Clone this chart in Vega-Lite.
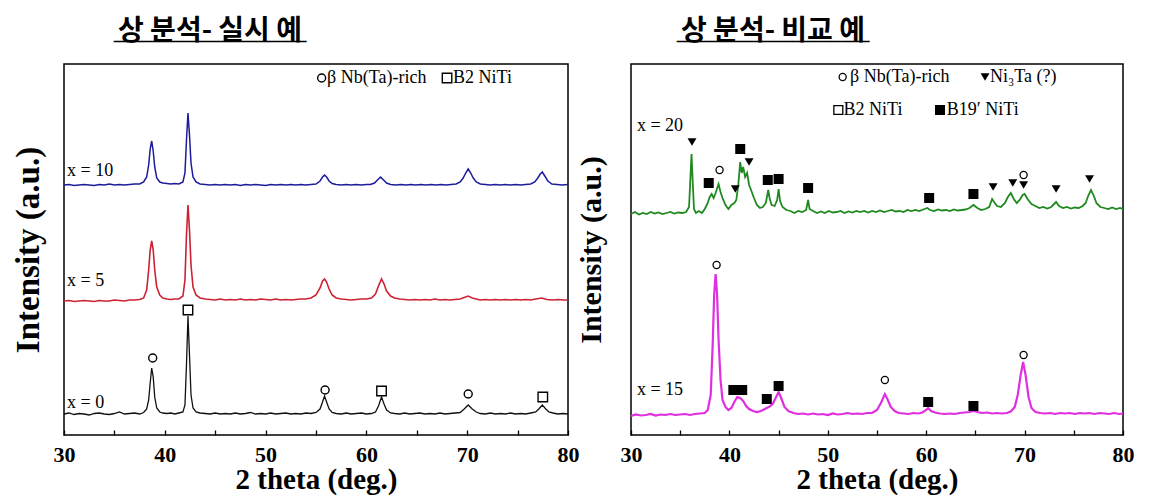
{
"$schema": "https://vega.github.io/schema/vega-lite/v6.json",
"background": "white",
"padding": {"left": 11, "top": 17, "right": 5, "bottom": 2},
"spacing": -5,
"config": {
  "view": {"stroke": "black", "strokeWidth": 1.5},
  "font": "Liberation Serif",
  "axis": {"grid": false, "domain": false, "labelFont": "Liberation Serif", "titleFont": "Liberation Serif", "labelColor": "black", "titleColor": "black", "labelFontWeight": "bold", "titleFontWeight": "bold"}
},
"datasets": {
"x0": [{"t":30,"i":21},{"t":30.5,"i":22},{"t":31,"i":20.5},{"t":31.5,"i":21.5},{"t":32,"i":21},{"t":32.5,"i":20},{"t":33,"i":21.5},{"t":33.5,"i":22},{"t":34,"i":21},{"t":34.5,"i":20.5},{"t":35,"i":21.5},{"t":35.5,"i":23},{"t":36,"i":21},{"t":36.5,"i":21.5},{"t":37,"i":22},{"t":37.5,"i":21},{"t":37.9,"i":22.5},{"t":38.2,"i":26},{"t":38.4,"i":35},{"t":38.55,"i":52},{"t":38.7,"i":67},{"t":38.85,"i":58},{"t":39.0,"i":38},{"t":39.2,"i":27},{"t":39.5,"i":23},{"t":39.8,"i":22},{"t":40.2,"i":21.5},{"t":40.6,"i":22},{"t":41,"i":21},{"t":41.4,"i":22},{"t":41.8,"i":23},{"t":42.0,"i":30},{"t":42.15,"i":70},{"t":42.3,"i":119},{"t":42.45,"i":80},{"t":42.6,"i":40},{"t":42.8,"i":27},{"t":43.1,"i":23},{"t":43.5,"i":22},{"t":44,"i":21.5},{"t":44.5,"i":21},{"t":45,"i":22},{"t":45.5,"i":21},{"t":46,"i":21.5},{"t":46.5,"i":21},{"t":47,"i":22},{"t":47.5,"i":21},{"t":48,"i":21.5},{"t":48.5,"i":22.5},{"t":49,"i":21},{"t":49.5,"i":21.5},{"t":50,"i":21},{"t":50.5,"i":22},{"t":51,"i":21},{"t":51.5,"i":21.5},{"t":52,"i":22},{"t":52.5,"i":21},{"t":53,"i":21.5},{"t":53.5,"i":21},{"t":54,"i":22},{"t":54.5,"i":21.5},{"t":55,"i":22.5},{"t":55.4,"i":26},{"t":55.65,"i":33},{"t":55.85,"i":39},{"t":56.05,"i":33},{"t":56.3,"i":26},{"t":56.6,"i":22.5},{"t":57,"i":21.5},{"t":57.5,"i":21},{"t":58,"i":22},{"t":58.5,"i":21},{"t":59,"i":21.5},{"t":59.5,"i":22},{"t":60,"i":21},{"t":60.5,"i":21.5},{"t":60.9,"i":23},{"t":61.2,"i":29},{"t":61.5,"i":38},{"t":61.75,"i":31},{"t":62.0,"i":25},{"t":62.4,"i":22},{"t":62.8,"i":21.5},{"t":63.3,"i":21},{"t":63.8,"i":22},{"t":64.3,"i":21},{"t":64.8,"i":21.5},{"t":65.3,"i":22},{"t":65.8,"i":21},{"t":66.3,"i":21.5},{"t":66.8,"i":21},{"t":67.3,"i":22},{"t":67.8,"i":21},{"t":68.3,"i":21.5},{"t":68.8,"i":22},{"t":69.3,"i":22.5},{"t":69.7,"i":26},{"t":70.1,"i":30},{"t":70.5,"i":26},{"t":70.9,"i":23},{"t":71.3,"i":21.5},{"t":71.8,"i":21},{"t":72.3,"i":22},{"t":72.8,"i":21},{"t":73.3,"i":21.5},{"t":73.8,"i":21},{"t":74.3,"i":22},{"t":74.8,"i":21},{"t":75.3,"i":21.5},{"t":75.8,"i":21},{"t":76.3,"i":22},{"t":76.8,"i":23},{"t":77.1,"i":26},{"t":77.45,"i":30},{"t":77.8,"i":26},{"t":78.1,"i":23},{"t":78.5,"i":22},{"t":79,"i":21},{"t":79.5,"i":21.5},{"t":80,"i":21}],
"x5": [{"t":30,"i":134},{"t":30.5,"i":134.5},{"t":31,"i":133.5},{"t":31.5,"i":134},{"t":32,"i":134.5},{"t":32.5,"i":134},{"t":33,"i":133.5},{"t":33.5,"i":134.5},{"t":34,"i":134},{"t":34.5,"i":134},{"t":35,"i":135},{"t":35.5,"i":134.5},{"t":36,"i":134},{"t":36.5,"i":135},{"t":37,"i":135},{"t":37.5,"i":135.5},{"t":37.9,"i":137},{"t":38.2,"i":145},{"t":38.4,"i":165},{"t":38.55,"i":185},{"t":38.7,"i":194},{"t":38.85,"i":185},{"t":39.0,"i":165},{"t":39.2,"i":148},{"t":39.5,"i":140},{"t":39.8,"i":137},{"t":40.2,"i":136},{"t":40.6,"i":135.5},{"t":41,"i":136},{"t":41.4,"i":136},{"t":41.8,"i":139},{"t":42.0,"i":155},{"t":42.15,"i":200},{"t":42.3,"i":230},{"t":42.45,"i":205},{"t":42.6,"i":170},{"t":42.8,"i":148},{"t":43.1,"i":140},{"t":43.5,"i":137},{"t":44,"i":136},{"t":44.5,"i":135.5},{"t":45,"i":135},{"t":45.5,"i":136},{"t":46,"i":135},{"t":46.5,"i":135.5},{"t":47,"i":135},{"t":47.5,"i":136},{"t":48,"i":135},{"t":48.5,"i":135.5},{"t":49,"i":135},{"t":49.5,"i":136},{"t":50,"i":135.5},{"t":50.5,"i":135},{"t":51,"i":136},{"t":51.5,"i":135},{"t":52,"i":135.5},{"t":52.5,"i":135},{"t":53,"i":135.5},{"t":53.5,"i":136},{"t":54,"i":136},{"t":54.5,"i":137},{"t":55,"i":140},{"t":55.4,"i":147},{"t":55.65,"i":154},{"t":55.85,"i":156},{"t":56.05,"i":153},{"t":56.3,"i":146},{"t":56.6,"i":140},{"t":57,"i":137},{"t":57.5,"i":136},{"t":58,"i":135.5},{"t":58.5,"i":135},{"t":59,"i":135.5},{"t":59.5,"i":136},{"t":60,"i":136},{"t":60.5,"i":137},{"t":60.9,"i":141},{"t":61.2,"i":149},{"t":61.5,"i":156},{"t":61.75,"i":151},{"t":62.0,"i":144},{"t":62.4,"i":139},{"t":62.8,"i":137},{"t":63.3,"i":136},{"t":63.8,"i":135.5},{"t":64.3,"i":135},{"t":64.8,"i":135.5},{"t":65.3,"i":135},{"t":65.8,"i":135.5},{"t":66.3,"i":135},{"t":66.8,"i":136},{"t":67.3,"i":135},{"t":67.8,"i":135.5},{"t":68.3,"i":135},{"t":68.8,"i":135.5},{"t":69.3,"i":136},{"t":69.7,"i":137.5},{"t":70.1,"i":139},{"t":70.5,"i":137},{"t":70.9,"i":136},{"t":71.3,"i":135},{"t":71.8,"i":135.5},{"t":72.3,"i":135},{"t":72.8,"i":135.5},{"t":73.3,"i":135},{"t":73.8,"i":135.5},{"t":74.3,"i":135},{"t":74.8,"i":135.5},{"t":75.3,"i":135},{"t":75.8,"i":135.5},{"t":76.3,"i":135},{"t":76.8,"i":136},{"t":77.4,"i":137},{"t":77.9,"i":135.5},{"t":78.5,"i":135},{"t":79,"i":135.5},{"t":79.5,"i":135},{"t":80,"i":135}],
"x10": [{"t":30,"i":250},{"t":30.5,"i":250.5},{"t":31,"i":249.5},{"t":31.5,"i":250},{"t":32,"i":250.5},{"t":32.5,"i":250},{"t":33,"i":249.5},{"t":33.5,"i":250.5},{"t":34,"i":250},{"t":34.5,"i":251},{"t":35,"i":250},{"t":35.5,"i":250.5},{"t":36,"i":250},{"t":36.5,"i":250.5},{"t":37,"i":251},{"t":37.5,"i":251},{"t":37.9,"i":253},{"t":38.2,"i":258},{"t":38.4,"i":270},{"t":38.55,"i":286},{"t":38.7,"i":294},{"t":38.85,"i":284},{"t":39.0,"i":268},{"t":39.2,"i":257},{"t":39.5,"i":253},{"t":39.8,"i":252},{"t":40.2,"i":251.5},{"t":40.6,"i":251},{"t":41,"i":251.5},{"t":41.4,"i":251},{"t":41.8,"i":253},{"t":42.0,"i":262},{"t":42.15,"i":295},{"t":42.3,"i":322},{"t":42.45,"i":300},{"t":42.6,"i":272},{"t":42.8,"i":258},{"t":43.1,"i":253},{"t":43.5,"i":251},{"t":44,"i":250.5},{"t":44.5,"i":250},{"t":45,"i":250.5},{"t":45.5,"i":250},{"t":46,"i":250.5},{"t":46.5,"i":250},{"t":47,"i":250.5},{"t":47.5,"i":249.5},{"t":48,"i":250.5},{"t":48.5,"i":250},{"t":49,"i":250.5},{"t":49.5,"i":250},{"t":50,"i":249.5},{"t":50.5,"i":250.5},{"t":51,"i":250},{"t":51.5,"i":250.5},{"t":52,"i":250},{"t":52.5,"i":250.5},{"t":53,"i":250},{"t":53.5,"i":250.5},{"t":54,"i":250},{"t":54.5,"i":250.5},{"t":55,"i":251},{"t":55.4,"i":254},{"t":55.65,"i":258},{"t":55.85,"i":260},{"t":56.05,"i":258},{"t":56.3,"i":254},{"t":56.6,"i":251.5},{"t":57,"i":250.5},{"t":57.5,"i":250},{"t":58,"i":250.5},{"t":58.5,"i":250},{"t":59,"i":250.5},{"t":59.5,"i":250},{"t":60,"i":250.5},{"t":60.4,"i":250.5},{"t":60.8,"i":252},{"t":61.1,"i":255},{"t":61.4,"i":258},{"t":61.7,"i":255},{"t":62.0,"i":252},{"t":62.4,"i":250.5},{"t":62.9,"i":250},{"t":63.4,"i":250.5},{"t":63.9,"i":250},{"t":64.4,"i":250.5},{"t":64.9,"i":250},{"t":65.4,"i":250.5},{"t":65.9,"i":250},{"t":66.4,"i":250.5},{"t":66.9,"i":250},{"t":67.4,"i":250.5},{"t":67.9,"i":250},{"t":68.4,"i":250.5},{"t":68.9,"i":251},{"t":69.3,"i":253},{"t":69.6,"i":257},{"t":69.85,"i":262},{"t":70.1,"i":266},{"t":70.35,"i":262},{"t":70.6,"i":257},{"t":70.9,"i":253},{"t":71.3,"i":251},{"t":71.8,"i":250.5},{"t":72.3,"i":250},{"t":72.8,"i":250.5},{"t":73.3,"i":250},{"t":73.8,"i":250.5},{"t":74.3,"i":250},{"t":74.8,"i":250.5},{"t":75.3,"i":250},{"t":75.8,"i":250.5},{"t":76.3,"i":251},{"t":76.7,"i":253},{"t":77.0,"i":257},{"t":77.25,"i":261},{"t":77.45,"i":263},{"t":77.7,"i":259},{"t":78.0,"i":254},{"t":78.4,"i":251},{"t":78.9,"i":250.5},{"t":79.4,"i":250},{"t":80,"i":250.5}],
"x20": [{"t":30,"i":221},{"t":30.4,"i":223},{"t":30.8,"i":220.5},{"t":31.2,"i":222},{"t":31.6,"i":221},{"t":32,"i":223},{"t":32.4,"i":221.5},{"t":32.8,"i":222.5},{"t":33.2,"i":221},{"t":33.6,"i":222},{"t":34,"i":223},{"t":34.4,"i":221.5},{"t":34.8,"i":222.5},{"t":35.2,"i":222},{"t":35.6,"i":223},{"t":35.9,"i":228},{"t":36.05,"i":260},{"t":36.15,"i":281},{"t":36.25,"i":258},{"t":36.4,"i":226},{"t":36.6,"i":222},{"t":36.9,"i":224},{"t":37.2,"i":222},{"t":37.5,"i":226},{"t":37.8,"i":232},{"t":38.0,"i":238},{"t":38.2,"i":241},{"t":38.4,"i":237},{"t":38.6,"i":242},{"t":38.9,"i":251},{"t":39.1,"i":243},{"t":39.3,"i":237},{"t":39.6,"i":230},{"t":39.9,"i":226},{"t":40.2,"i":230},{"t":40.5,"i":232},{"t":40.7,"i":235},{"t":40.9,"i":250},{"t":41.1,"i":273},{"t":41.25,"i":262},{"t":41.4,"i":268},{"t":41.6,"i":258},{"t":41.8,"i":262},{"t":42.0,"i":250},{"t":42.2,"i":245},{"t":42.5,"i":237},{"t":42.8,"i":230},{"t":43.1,"i":227},{"t":43.4,"i":228},{"t":43.7,"i":232},{"t":43.95,"i":245},{"t":44.1,"i":236},{"t":44.3,"i":230},{"t":44.6,"i":229},{"t":44.85,"i":235},{"t":45.0,"i":246},{"t":45.15,"i":234},{"t":45.4,"i":228},{"t":45.8,"i":225},{"t":46.2,"i":224},{"t":46.6,"i":222},{"t":47.0,"i":224},{"t":47.4,"i":223},{"t":47.8,"i":225},{"t":48.0,"i":235},{"t":48.15,"i":226},{"t":48.5,"i":224},{"t":48.9,"i":222},{"t":49.3,"i":223.5},{"t":49.7,"i":222},{"t":50.1,"i":224},{"t":50.5,"i":222.5},{"t":50.9,"i":223},{"t":51.3,"i":224},{"t":51.7,"i":222},{"t":52.1,"i":223.5},{"t":52.5,"i":222.5},{"t":52.9,"i":224},{"t":53.3,"i":223},{"t":53.7,"i":224},{"t":54.1,"i":222.5},{"t":54.5,"i":224},{"t":54.9,"i":223},{"t":55.3,"i":224.5},{"t":55.7,"i":223},{"t":56.1,"i":224},{"t":56.5,"i":225},{"t":56.9,"i":223.5},{"t":57.3,"i":224},{"t":57.7,"i":223},{"t":58.1,"i":225},{"t":58.5,"i":224},{"t":58.9,"i":225},{"t":59.3,"i":224},{"t":59.7,"i":225.5},{"t":60.1,"i":227},{"t":60.4,"i":225},{"t":60.8,"i":224},{"t":61.2,"i":225.5},{"t":61.6,"i":224.5},{"t":62.0,"i":225},{"t":62.4,"i":224},{"t":62.8,"i":225.5},{"t":63.2,"i":224.5},{"t":63.6,"i":225},{"t":64.0,"i":225.5},{"t":64.4,"i":227},{"t":64.8,"i":230},{"t":65.2,"i":227},{"t":65.6,"i":225},{"t":66.0,"i":226},{"t":66.4,"i":228},{"t":66.7,"i":236},{"t":66.9,"i":233},{"t":67.2,"i":229},{"t":67.6,"i":228},{"t":68.0,"i":232},{"t":68.3,"i":238},{"t":68.6,"i":242},{"t":68.9,"i":236},{"t":69.2,"i":232},{"t":69.5,"i":235},{"t":69.8,"i":240},{"t":70.0,"i":241},{"t":70.3,"i":236},{"t":70.7,"i":231},{"t":71.1,"i":229},{"t":71.5,"i":227},{"t":71.9,"i":228},{"t":72.3,"i":226.5},{"t":72.7,"i":228},{"t":73.0,"i":231},{"t":73.2,"i":233},{"t":73.5,"i":229},{"t":73.9,"i":227},{"t":74.3,"i":228},{"t":74.7,"i":226.5},{"t":75.1,"i":227.5},{"t":75.5,"i":227},{"t":75.9,"i":229},{"t":76.2,"i":232},{"t":76.5,"i":240},{"t":76.75,"i":245},{"t":77.0,"i":240},{"t":77.3,"i":232},{"t":77.7,"i":228},{"t":78.1,"i":227},{"t":78.5,"i":226},{"t":78.9,"i":227.5},{"t":79.3,"i":226},{"t":79.7,"i":227},{"t":80,"i":226}],
"x15": [{"t":30,"i":19},{"t":30.5,"i":20.5},{"t":31,"i":19.5},{"t":31.5,"i":20},{"t":32,"i":21},{"t":32.5,"i":19.5},{"t":33,"i":20.5},{"t":33.5,"i":20},{"t":34,"i":21},{"t":34.5,"i":20},{"t":35,"i":20.5},{"t":35.5,"i":21},{"t":36,"i":20},{"t":36.5,"i":21},{"t":37,"i":21.5},{"t":37.5,"i":22},{"t":37.8,"i":25},{"t":38.1,"i":40},{"t":38.3,"i":90},{"t":38.45,"i":140},{"t":38.6,"i":161},{"t":38.75,"i":140},{"t":38.9,"i":95},{"t":39.1,"i":55},{"t":39.3,"i":35},{"t":39.6,"i":28},{"t":39.9,"i":25},{"t":40.2,"i":27},{"t":40.5,"i":33},{"t":40.8,"i":38},{"t":41.1,"i":37},{"t":41.4,"i":34},{"t":41.7,"i":29},{"t":42.0,"i":26},{"t":42.4,"i":24},{"t":42.8,"i":23},{"t":43.2,"i":24},{"t":43.6,"i":26},{"t":44.0,"i":28},{"t":44.4,"i":31},{"t":44.7,"i":37},{"t":45.0,"i":43},{"t":45.3,"i":36},{"t":45.6,"i":28},{"t":46.0,"i":24},{"t":46.5,"i":22},{"t":47,"i":21},{"t":47.5,"i":21.5},{"t":48,"i":20.5},{"t":48.5,"i":21.5},{"t":49,"i":20.5},{"t":49.5,"i":21},{"t":50,"i":20},{"t":50.5,"i":21.5},{"t":51,"i":20.5},{"t":51.5,"i":21},{"t":52,"i":22},{"t":52.5,"i":21},{"t":53,"i":21.5},{"t":53.5,"i":21},{"t":54,"i":22},{"t":54.5,"i":22},{"t":55.0,"i":25},{"t":55.4,"i":32},{"t":55.8,"i":41},{"t":56.1,"i":35},{"t":56.4,"i":28},{"t":56.8,"i":24},{"t":57.2,"i":22},{"t":57.7,"i":21.5},{"t":58.2,"i":21},{"t":58.7,"i":22},{"t":59.2,"i":21.5},{"t":59.6,"i":22.5},{"t":60.0,"i":25},{"t":60.2,"i":27},{"t":60.5,"i":24},{"t":60.9,"i":22.5},{"t":61.4,"i":21.5},{"t":61.9,"i":21},{"t":62.4,"i":21.5},{"t":62.9,"i":21},{"t":63.4,"i":22},{"t":63.9,"i":22.5},{"t":64.4,"i":23},{"t":64.8,"i":24},{"t":65.2,"i":23},{"t":65.7,"i":22},{"t":66.2,"i":22.5},{"t":66.7,"i":21.5},{"t":67.2,"i":22},{"t":67.7,"i":21.5},{"t":68.2,"i":22},{"t":68.6,"i":23.5},{"t":69.0,"i":28},{"t":69.3,"i":40},{"t":69.6,"i":60},{"t":69.85,"i":73},{"t":70.1,"i":60},{"t":70.4,"i":38},{"t":70.7,"i":27},{"t":71.1,"i":23},{"t":71.6,"i":22},{"t":72.1,"i":21.5},{"t":72.6,"i":22},{"t":73.1,"i":21},{"t":73.6,"i":22},{"t":74.1,"i":21.5},{"t":74.6,"i":22},{"t":75.1,"i":21},{"t":75.6,"i":22},{"t":76.1,"i":21.5},{"t":76.6,"i":22},{"t":77.1,"i":21},{"t":77.6,"i":22},{"t":78.1,"i":21.5},{"t":78.6,"i":21},{"t":79.1,"i":22},{"t":79.6,"i":21},{"t":80,"i":21.5}],
"markL": [{"p":"beta","t":38.8,"i":77},{"p":"B2","t":42.3,"i":125},{"p":"beta","t":55.9,"i":45},{"p":"B2","t":61.5,"i":44},{"p":"beta","t":70.1,"i":41},{"p":"B2","t":77.5,"i":38},{"p":"beta","t":55.56,"i":357},{"p":"B2","t":68.0,"i":357}],
"markR": [{"p":"Ni3Ta","t":36.2,"i":293},{"p":"B19","t":37.9,"i":252},{"p":"beta","t":39.0,"i":265},{"p":"Ni3Ta","t":40.6,"i":246},{"p":"B19","t":41.1,"i":286},{"p":"Ni3Ta","t":42.0,"i":273},{"p":"B19","t":43.9,"i":255},{"p":"B19","t":45.0,"i":256},{"p":"B19","t":48.0,"i":247},{"p":"B19","t":60.3,"i":237},{"p":"B19","t":64.8,"i":241},{"p":"Ni3Ta","t":66.8,"i":248},{"p":"Ni3Ta","t":68.8,"i":252},{"p":"Ni3Ta","t":69.9,"i":250},{"p":"beta","t":69.9,"i":260},{"p":"Ni3Ta","t":73.2,"i":246},{"p":"Ni3Ta","t":76.6,"i":256},{"p":"beta","t":38.7,"i":170},{"p":"B19","t":40.4,"i":45},{"p":"B19","t":41.3,"i":45},{"p":"B19","t":43.8,"i":36},{"p":"B19","t":45.0,"i":49},{"p":"beta","t":55.8,"i":55},{"p":"B19","t":60.2,"i":33},{"p":"B19","t":64.8,"i":29},{"p":"beta","t":69.9,"i":80},{"p":"beta","t":51.51,"i":358},{"p":"Ni3Ta","t":65.98,"i":358},{"p":"B2","t":51.07,"i":325},{"p":"B19","t":61.4,"i":325}],
"textL": [{"t":30.3,"i":264,"txt":"x = 10"},{"t":30.3,"i":154,"txt":"x = 5"},{"t":30.3,"i":32,"txt":"x = 0"},{"t":56.1,"i":357,"txt":"β Nb(Ta)-rich"},{"t":68.6,"i":357,"txt":"B2 NiTi"}],
"textR": [{"t":30.6,"i":309,"txt":"x = 20"},{"t":30.6,"i":45,"txt":"x = 15"},{"t":52.26,"i":358,"txt":"β Nb(Ta)-rich"},{"t":66.48,"i":358,"txt":"Ni₃Ta (?)"},{"t":51.6,"i":325,"txt":"B2 NiTi"},{"t":62.1,"i":325,"txt":"B19′ NiTi"}]
},
"hconcat": [
{
  "width": 504, "height": 371,
  "title": {"text": "상 분석- 실시 예", "font": "Noto Sans CJK KR", "fontSize": 28, "fontWeight": "bold", "color": "black", "anchor": "middle", "frame": "group", "dx": -106, "offset": 14,
    "subtitle": "────────────────────", "subtitleFont": "DejaVu Sans Mono", "subtitleFontSize": 16, "subtitleFontWeight": "bold", "subtitleColor": "black", "subtitlePadding": -12},
  "encoding": {
    "x": {"field": "t", "type": "quantitative", "scale": {"domain": [30, 80], "nice": false},
      "axis": {"title": "2 theta (deg.)", "values": [30,35,40,45,50,55,60,65,70,75,80], "labelExpr": "datum.value % 10 === 0 ? datum.label : ''", "tickSize": -5, "tickColor": "black", "tickWidth": 1.3, "labelFontSize": 22, "labelPadding": 14, "labelFlush": false, "labelOverlap": false, "titleFontSize": 29, "titlePadding": 0}},
    "y": {"field": "i", "type": "quantitative", "scale": {"domain": [0, 371], "nice": false, "zero": false},
      "axis": {"title": "Intensity (a.u.)", "labels": false, "ticks": false, "titleFontSize": 33, "titlePadding": 19}}
  },
  "layer": [
    {"data": {"name": "x0"}, "mark": {"type": "line", "color": "#111111", "strokeWidth": 1.3}},
    {"data": {"name": "x5"}, "mark": {"type": "line", "color": "#cc2233", "strokeWidth": 1.6}},
    {"data": {"name": "x10"}, "mark": {"type": "line", "color": "#1c1c9c", "strokeWidth": 1.5}},
    {"data": {"name": "markL"}, "transform": [{"filter": "datum.p == 'beta'"}], "mark": {"type": "point", "shape": "circle", "filled": false, "color": "black", "strokeWidth": 1.4, "size": 64, "opacity": 1}},
    {"data": {"name": "markL"}, "transform": [{"filter": "datum.p == 'B2'"}], "mark": {"type": "point", "shape": "square", "filled": false, "color": "black", "strokeWidth": 1.4, "size": 90, "opacity": 1}},
    {"data": {"name": "textL"}, "mark": {"type": "text", "align": "left", "baseline": "middle", "font": "Liberation Serif", "fontSize": 18, "color": "black"}, "encoding": {"text": {"field": "txt"}}}
  ]
},
{
  "width": 492, "height": 371,
  "title": {"text": "상 분석- 비교 예", "font": "Noto Sans CJK KR", "fontSize": 28, "fontWeight": "bold", "color": "black", "anchor": "middle", "frame": "group", "dx": -104, "offset": 14,
    "subtitle": "────────────────────", "subtitleFont": "DejaVu Sans Mono", "subtitleFontSize": 16, "subtitleFontWeight": "bold", "subtitleColor": "black", "subtitlePadding": -12},
  "encoding": {
    "x": {"field": "t", "type": "quantitative", "scale": {"domain": [30, 80], "nice": false},
      "axis": {"title": "2 theta (deg.)", "values": [30,35,40,45,50,55,60,65,70,75,80], "labelExpr": "datum.value % 10 === 0 ? datum.label : ''", "tickSize": -5, "tickColor": "black", "tickWidth": 1.3, "labelFontSize": 22, "labelPadding": 14, "labelFlush": false, "labelOverlap": false, "titleFontSize": 29, "titlePadding": 0}},
    "y": {"field": "i", "type": "quantitative", "scale": {"domain": [0, 371], "nice": false, "zero": false},
      "axis": {"title": "Intensity (a.u.)", "labels": false, "ticks": false, "titleFontSize": 30, "titlePadding": 25}}
  },
  "layer": [
    {"data": {"name": "x20"}, "mark": {"type": "line", "color": "#1f8a1f", "strokeWidth": 1.8}},
    {"data": {"name": "x15"}, "mark": {"type": "line", "color": "#e02ee0", "strokeWidth": 2.2}},
    {"data": {"name": "markR"}, "transform": [{"filter": "datum.p == 'beta'"}], "mark": {"type": "point", "shape": "circle", "filled": false, "color": "black", "strokeWidth": 1.3, "size": 50, "opacity": 1}},
    {"data": {"name": "markR"}, "transform": [{"filter": "datum.p == 'B2'"}], "mark": {"type": "point", "shape": "square", "filled": false, "color": "black", "strokeWidth": 1.3, "size": 80, "opacity": 1}},
    {"data": {"name": "markR"}, "transform": [{"filter": "datum.p == 'B19'"}], "mark": {"type": "point", "shape": "square", "filled": true, "color": "black", "size": 100, "opacity": 1}},
    {"data": {"name": "markR"}, "transform": [{"filter": "datum.p == 'Ni3Ta'"}], "mark": {"type": "point", "shape": "triangle-down", "filled": true, "color": "black", "size": 80, "opacity": 1}},
    {"data": {"name": "textR"}, "mark": {"type": "text", "align": "left", "baseline": "middle", "font": "Liberation Serif", "fontSize": 18, "color": "black"}, "encoding": {"text": {"field": "txt"}}}
  ]
}
]
}
